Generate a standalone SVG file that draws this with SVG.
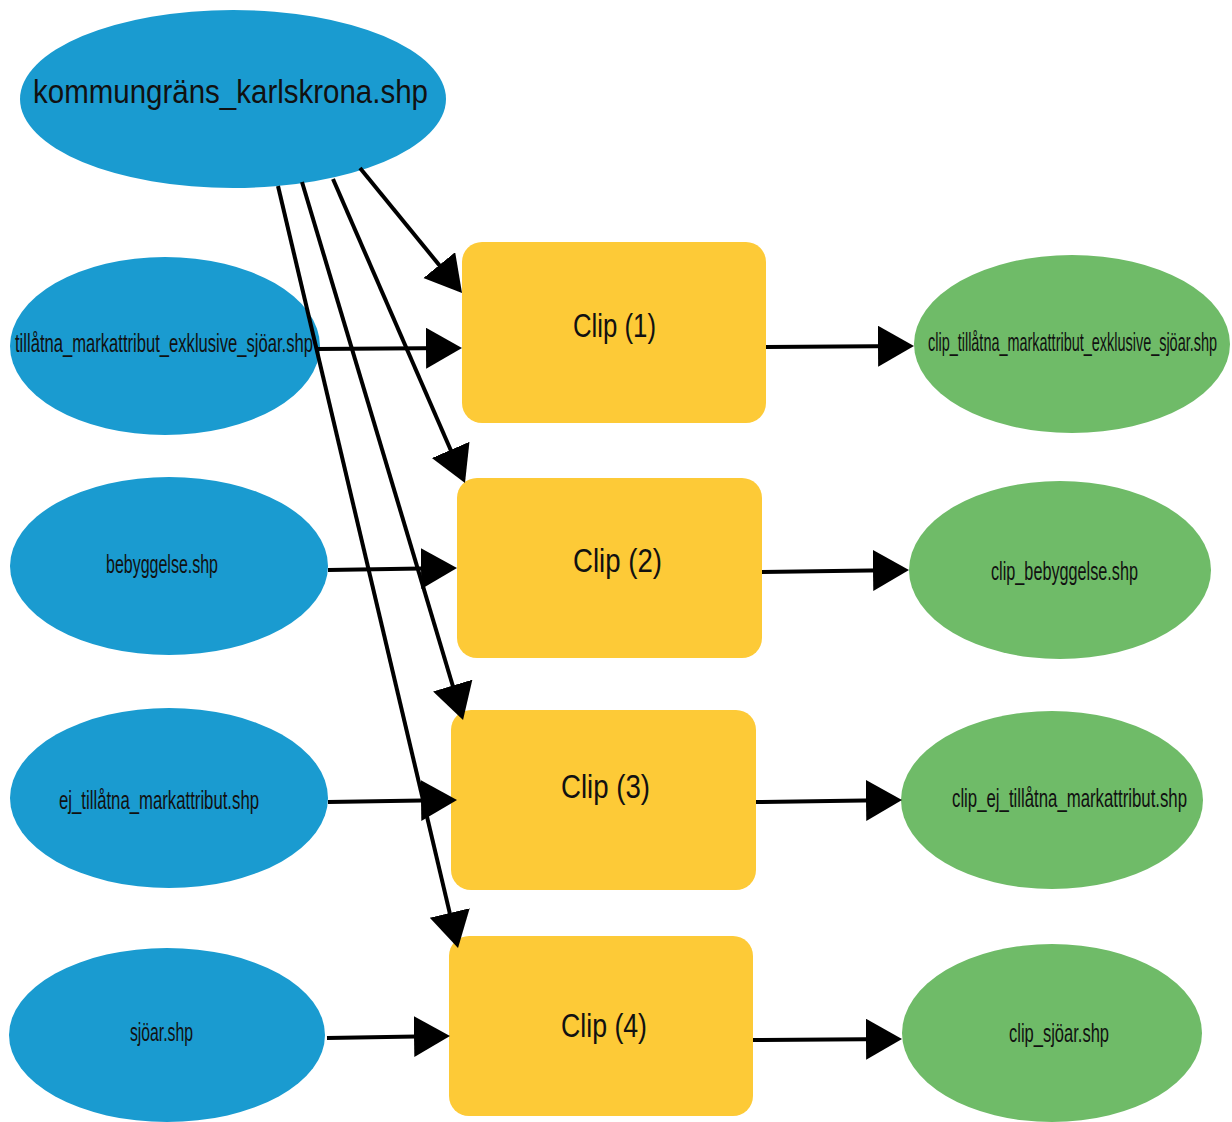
<svg xmlns="http://www.w3.org/2000/svg" width="1232" height="1122" viewBox="0 0 1232 1122">
<style>
.in{fill:#1a9bd0}
.out{fill:#6fbb68}
.proc{fill:#fdca37}
text{font-family:"Liberation Sans",Arial,sans-serif;fill:#111}
.s{font-size:25px}
.c{font-size:33px}
.e{stroke:#000;stroke-width:4;fill:none;marker-end:url(#ah)}
</style>
<defs>
<marker id="ah" markerUnits="userSpaceOnUse" markerWidth="40" markerHeight="42" refX="32" refY="20.5" orient="auto">
<path d="M0,0 L36,20.5 L0,41 Z" fill="#000"/>
</marker>
</defs>
<rect width="1232" height="1122" fill="#fff"/>
<g id="n_kommun"><ellipse class="in" cx="233" cy="99" rx="213" ry="89"/><text x="33" y="103" font-size="34" textLength="395" lengthAdjust="spacingAndGlyphs">kommungräns_karlskrona.shp</text></g>
<g id="n_tillatna"><ellipse class="in" cx="165" cy="346" rx="155" ry="89"/><text class="s" x="15" y="352" textLength="298" lengthAdjust="spacingAndGlyphs">tillåtna_markattribut_exklusive_sjöar.shp</text></g>
<g id="n_bebyggelse"><ellipse class="in" cx="169" cy="566" rx="159" ry="89"/><text class="s" x="106" y="573" textLength="112" lengthAdjust="spacingAndGlyphs">bebyggelse.shp</text></g>
<g id="n_ej"><ellipse class="in" cx="169" cy="798" rx="159" ry="90"/><text class="s" x="59" y="809" textLength="200" lengthAdjust="spacingAndGlyphs">ej_tillåtna_markattribut.shp</text></g>
<g id="n_sjoar"><ellipse class="in" cx="167" cy="1035" rx="158" ry="87"/><text class="s" x="130" y="1041" textLength="63" lengthAdjust="spacingAndGlyphs">sjöar.shp</text></g>
<g id="clip1"><rect class="proc" x="462" y="242" width="304" height="181" rx="20"/><text class="c" x="573" y="337" textLength="83" lengthAdjust="spacingAndGlyphs">Clip (1)</text></g>
<g id="clip2"><rect class="proc" x="457" y="478" width="305" height="180" rx="20"/><text class="c" x="573" y="572" textLength="89" lengthAdjust="spacingAndGlyphs">Clip (2)</text></g>
<g id="clip3"><rect class="proc" x="451" y="710" width="305" height="180" rx="20"/><text class="c" x="561" y="798" textLength="89" lengthAdjust="spacingAndGlyphs">Clip (3)</text></g>
<g id="clip4"><rect class="proc" x="449" y="936" width="304" height="180" rx="20"/><text class="c" x="561" y="1037" textLength="86" lengthAdjust="spacingAndGlyphs">Clip (4)</text></g>
<g id="o_tillatna"><ellipse class="out" cx="1072" cy="344" rx="158" ry="89"/><text class="s" x="928" y="351" textLength="289" lengthAdjust="spacingAndGlyphs">clip_tillåtna_markattribut_exklusive_sjöar.shp</text></g>
<g id="o_bebyggelse"><ellipse class="out" cx="1060" cy="570" rx="151" ry="89"/><text class="s" x="991" y="580" textLength="147" lengthAdjust="spacingAndGlyphs">clip_bebyggelse.shp</text></g>
<g id="o_ej"><ellipse class="out" cx="1052" cy="800" rx="151" ry="89"/><text class="s" x="952" y="807" textLength="235" lengthAdjust="spacingAndGlyphs">clip_ej_tillåtna_markattribut.shp</text></g>
<g id="o_sjoar"><ellipse class="out" cx="1052" cy="1033" rx="150" ry="89"/><text class="s" x="1009" y="1042" textLength="100" lengthAdjust="spacingAndGlyphs">clip_sjöar.shp</text></g>
<g id="connectors">
<path class="e" d="M360,168 L459.5,289.9"/>
<path class="e" d="M333,179 L463.4,479.3"/>
<path class="e" d="M302,182 L461.9,716.2"/>
<path class="e" d="M278,186 L457.1,944.1"/>
<path class="e" d="M315,349 L458,348"/>
<path class="e" d="M328,570 L453,568"/>
<path class="e" d="M328,802 L453,800"/>
<path class="e" d="M327,1038 L446,1036"/>
<path class="e" d="M766,347 L910,346"/>
<path class="e" d="M762,572 L905,570"/>
<path class="e" d="M756,802 L898,800"/>
<path class="e" d="M753,1040 L898,1039"/>
</g>
</svg>
